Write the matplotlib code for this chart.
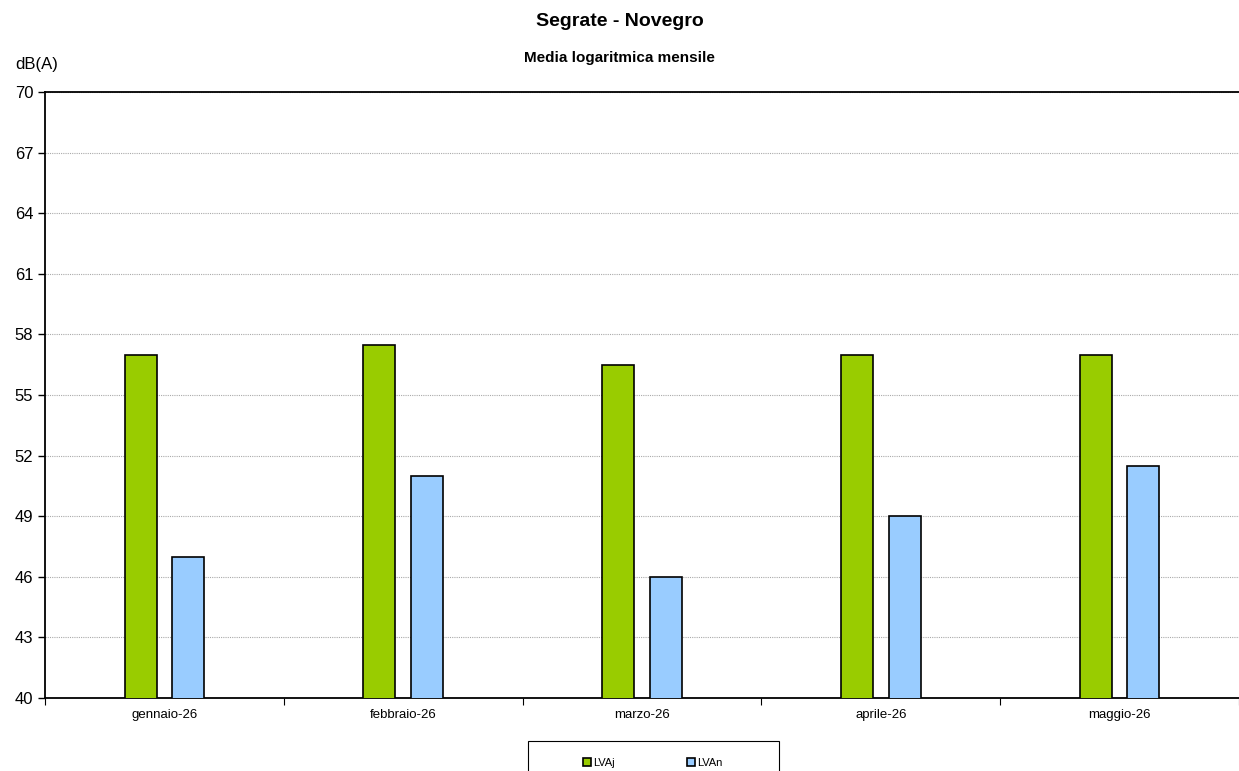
import matplotlib.pyplot as plt
from matplotlib.patches import Rectangle
import numpy as np

plt.rcParams['font.family'] = ['Liberation Sans', 'DejaVu Sans']

mesi = ['gennaio-26', 'febbraio-26', 'marzo-26', 'aprile-26', 'maggio-26']
lvaj = [57.0, 57.5, 56.5, 57.0, 57.0]
lvan = [47.0, 51.0, 46.0, 49.0, 51.5]

W, H = 1239, 771
fig = plt.figure(figsize=(W / 100, H / 100), dpi=100)
ax = fig.add_axes([45 / W, 1 - 698 / H, 1 - 45 / W, (698 - 92) / H])

x = np.arange(len(mesi))
w = 0.134
ax.bar(x - 0.1, lvaj, w, bottom=0, color='#99cc00', edgecolor='black', linewidth=1.2, label='LVAj', zorder=3)
ax.bar(x + 0.1, lvan, w, bottom=0, color='#99ccff', edgecolor='black', linewidth=1.2, label='LVAn', zorder=3)

ax.set_xlim(-0.5, len(mesi) - 0.5)
ax.set_ylim(40, 70)
ax.set_yticks(np.arange(40, 71, 3))
ax.tick_params(axis='y', labelsize=12, length=5, width=1, direction='out')
ax.set_xticks(x)
ax.set_xticklabels(mesi, fontsize=9.5)
ax.tick_params(axis='x', which='major', length=0, pad=8)
ax.set_xticks(np.arange(-0.5, len(mesi) + 0.5, 1), minor=True)
ax.tick_params(axis='x', which='minor', length=5, width=0.8, direction='out')
ax.grid(axis='y', color='#aaaaaa', linestyle=(0, (1, 1)), linewidth=0.8, zorder=0)
ax.spines['right'].set_visible(False)
for s in ['left', 'top', 'bottom']:
    ax.spines[s].set_linewidth(1.3)

fig.text(0.5, 1 - 21 / H, 'Segrate - Novegro', ha='center', va='center', fontsize=14, fontweight='bold')
fig.text(0.5, 1 - 58 / H, 'Media logaritmica mensile', ha='center', va='center', fontsize=11, fontweight='bold')
fig.text(15 / W, 1 - 64 / H, 'dB(A)', ha='left', va='center', fontsize=12)

# riquadro legenda (tagliato in basso come nell'originale)
fig.patches.append(Rectangle((528 / W, -0.01), (779 - 528) / W, 0.01 + 1 - 741 / H,
                             transform=fig.transFigure, fill=False, edgecolor='black',
                             linewidth=0.8, clip_on=False))
fig.legend(loc='center', bbox_to_anchor=(653 / W, 1 - 763 / H), ncol=2,
           fontsize=8, handlelength=0.7, handleheight=0.7, handletextpad=0.2,
           columnspacing=6.5, frameon=False, borderaxespad=0)

fig.savefig('out.png', dpi=100)
